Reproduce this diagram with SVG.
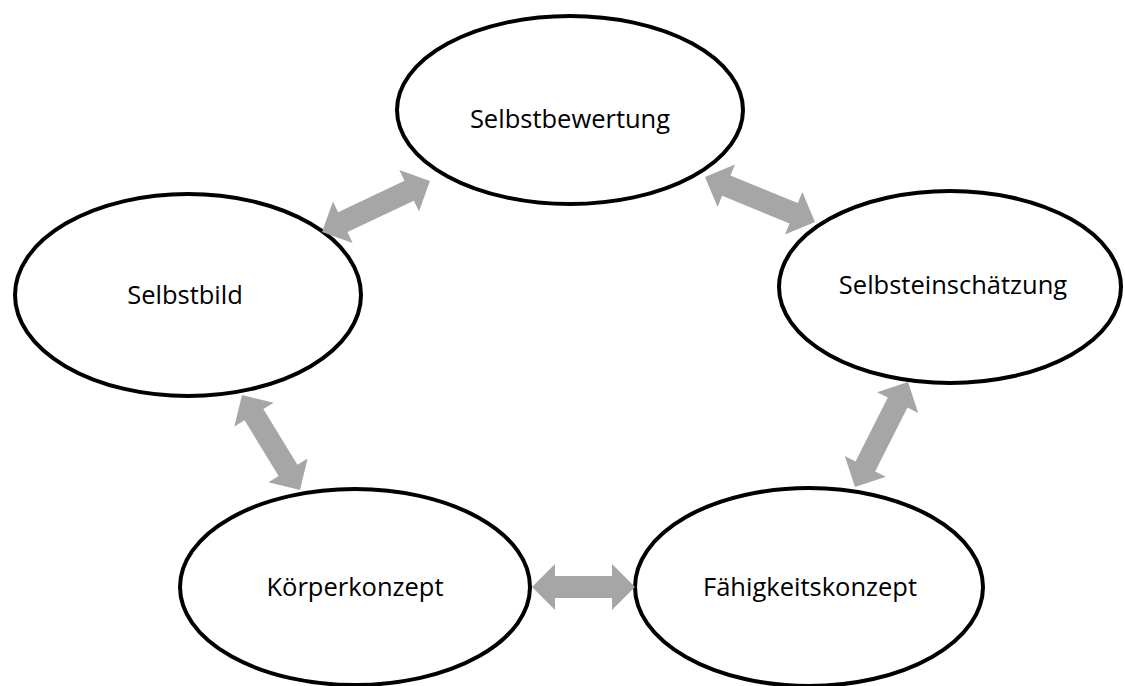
<svg xmlns="http://www.w3.org/2000/svg" width="1125" height="686" viewBox="0 0 1125 686">
  <defs>
    <style>
      .node ellipse { fill: #ffffff; stroke: #000000; stroke-width: 4; }
      .node text { font-family: "Open Sans", "Liberation Sans", sans-serif; font-size: 25.5px; fill: #000000; text-anchor: middle; }
      .link { fill: #a6a6a6; stroke: none; }
    </style>
  </defs>
  <rect width="1125" height="686" fill="#ffffff"/>

  <g id="node-selbstbewertung" class="node">
    <ellipse cx="570" cy="110" rx="173" ry="94"/>
    <text x="570" y="128">Selbstbewertung</text>
  </g>
  <g id="node-selbstbild" class="node">
    <ellipse cx="188" cy="295" rx="173" ry="101"/>
    <text x="185" y="304">Selbstbild</text>
  </g>
  <g id="node-selbsteinschaetzung" class="node">
    <ellipse cx="950" cy="287" rx="171" ry="96"/>
    <text x="953" y="294">Selbsteinschätzung</text>
  </g>
  <g id="node-koerperkonzept" class="node">
    <ellipse cx="355" cy="587" rx="175" ry="98"/>
    <text x="355" y="596">Körperkonzept</text>
  </g>
  <g id="node-faehigkeitskonzept" class="node">
    <ellipse cx="809" cy="587" rx="174" ry="99"/>
    <text x="810" y="596">Fähigkeitskonzept</text>
  </g>

  <!-- double-headed block arrows between neighbouring concepts -->
  <g id="connectors" class="link">
    <path transform="translate(322 232) rotate(-25.3)" d="M0,0 L23,-23 L23,-11 L96.4,-11 L96.4,-23 L119.4,0 L96.4,23 L96.4,11 L23,11 L23,23 Z"/>
    <path transform="translate(705 177) rotate(22.2)" d="M0,0 L23,-23 L23,-11 L95.8,-11 L95.8,-23 L118.8,0 L95.8,23 L95.8,11 L23,11 L23,23 Z"/>
    <path transform="translate(532 587)" d="M0,0 L23,-23 L23,-11 L80,-11 L80,-23 L103,0 L80,23 L80,11 L23,11 L23,23 Z"/>
    <path transform="translate(242 395) rotate(58.6)" d="M0,0 L23,-23 L23,-11 L88.3,-11 L88.3,-23 L111.3,0 L88.3,23 L88.3,11 L23,11 L23,23 Z"/>
    <path transform="translate(908 382) rotate(116.8)" d="M0,0 L23,-23 L23,-11 L94.6,-11 L94.6,-23 L117.6,0 L94.6,23 L94.6,11 L23,11 L23,23 Z"/>
  </g>
</svg>
